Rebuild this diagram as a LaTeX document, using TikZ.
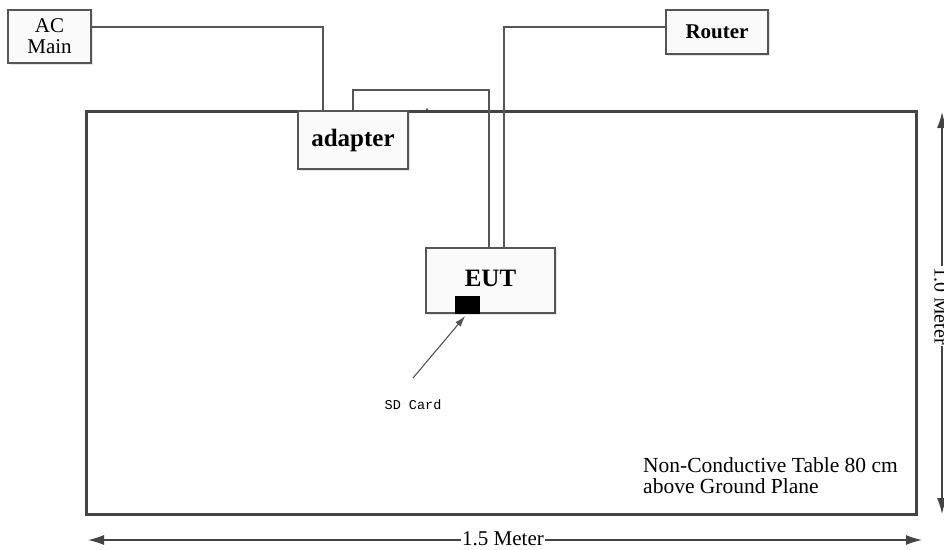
\documentclass[tikz,border=0pt]{standalone}
\usepackage{fontspec}
\setmainfont{Liberation Serif}
\newfontfamily\sdfont{Liberation Mono}
\usetikzlibrary{arrows.meta,shadows}
\definecolor{ln}{HTML}{555555}
\definecolor{tb}{HTML}{444444}
\tikzset{
  devbox/.style={draw=ln, line width=1.8pt, fill=gray!4, inner sep=0pt,
    drop shadow={shadow xshift=2pt, shadow yshift=-2pt, fill=gray!35, opacity=0.6}},
  wire/.style={draw=ln, line width=1.6pt},
  dimarrow/.style={draw=tb, line width=1.3pt, {Latex[length=16pt,width=10pt]}-{Latex[length=16pt,width=10pt]}},
}
\begin{document}
\begin{tikzpicture}[x=1pt,y=-1pt]
\useasboundingbox (0,0) rectangle (944,549);
% table
\node[draw=tb, line width=3pt, minimum width=830pt, minimum height=403pt, inner sep=0pt] (table) at (501,312.5) {};
% devices
\node[devbox, minimum width=83pt, minimum height=53pt, align=center, font=\fontsize{21}{21}\selectfont] (acmain) at (49.5,36.5) {AC\\Main};
\node[devbox, minimum width=110pt, minimum height=58pt, font=\fontsize{25}{25}\selectfont\bfseries] (adapter) at (353,140) {adapter};
\node[devbox, minimum width=102pt, minimum height=44pt, font=\fontsize{21}{21}\selectfont\bfseries] (router) at (717,32) {Router};
\node[devbox, minimum width=129pt, minimum height=65pt, font=\fontsize{25}{25}\selectfont\bfseries, text depth=0pt] (eut) at (490.5,280.5) {\raisebox{4pt}{EUT}};
\node[fill=black, draw=black, minimum width=24pt, minimum height=17pt, inner sep=0pt, anchor=south west] (sd) at (455,313) {};
% wires
\draw[wire] ([yshift=9.5pt]acmain.east) -| ([xshift=-30pt]adapter.north);
\draw[wire] (adapter.north) -- ++(0,-20) -| ([xshift=-1.5pt]eut.north);
\draw[wire] ([yshift=5pt]router.west) -| ([xshift=13.5pt]eut.north);
\fill[ln] (427,109.5) circle (1.3pt);
% sd card label
\node[font=\sdfont\fontsize{13.5}{13.5}\selectfont] (sdlabel) at (413,405) {SD Card};
\coordinate (sdtail) at (413,378);
\draw[draw=ln, line width=1.1pt, -{Latex[length=11pt,width=7pt]}] (sdtail) -- ([xshift=-2pt,yshift=-3pt]sd.south);
% table text
\node[anchor=north west, align=left, inner sep=0pt, font=\fontsize{21.5}{21}\selectfont] (tabletext) at (643,457) {Non-Conductive Table 80 cm\\above Ground Plane};
% dimensions
\coordinate (hl) at (88,540);
\coordinate (hr) at (922,540);
\draw[dimarrow] (hl) -- (hr);
\node[fill=white, inner sep=1pt, font=\fontsize{21}{21}\selectfont] (hlabel) at (503,539) {1.5 Meter};
\coordinate (vt) at (942,112);
\coordinate (vb) at (942,514);
\draw[dimarrow] (vt) -- (vb);
\node[fill=white, inner sep=1pt, rotate=-90, font=\fontsize{20}{20}\selectfont] (vlabel) at (941,306) {1.0 Meter};
\end{tikzpicture}
\end{document}
